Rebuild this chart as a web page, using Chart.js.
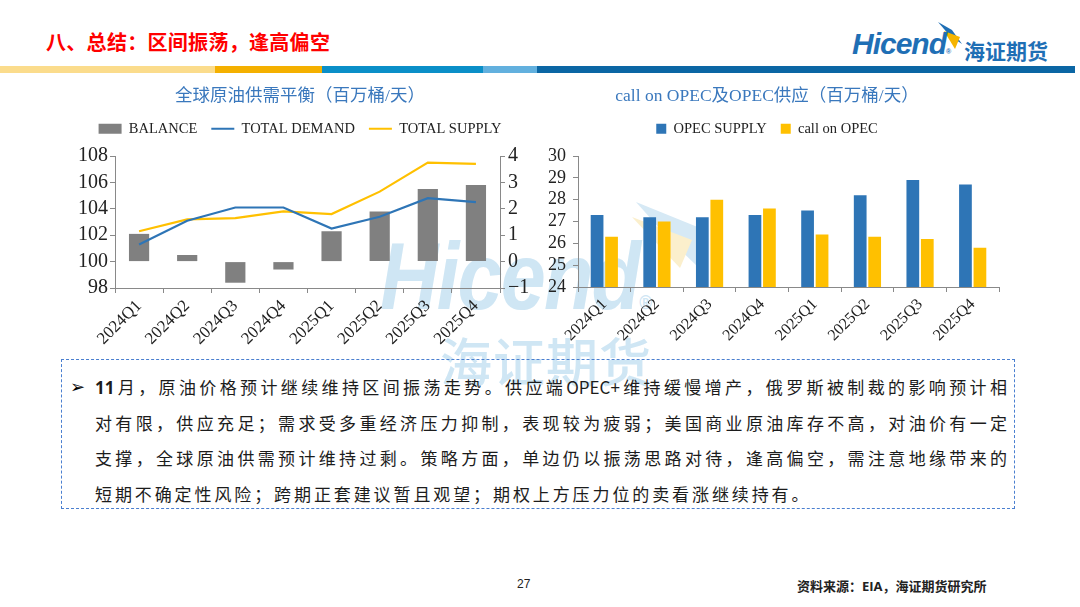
<!DOCTYPE html>
<html lang="zh-CN">
<head>
<meta charset="utf-8">
<title>八、总结：区间振荡，逢高偏空</title>
<script src="https://cdn.jsdelivr.net/npm/chart.js@4.4.1/dist/chart.umd.min.js"></script>
<style>
  html, body { margin: 0; padding: 0; background: #fff; }
  #page { position: relative; width: 1080px; height: 607px; overflow: hidden; font-family: "Noto Sans CJK SC", sans-serif; }
  .abs { position: absolute; }
  #titulo { left: 46px; top: 28px; font-size: 20px; font-weight: bold; color: #ff0000; line-height: 28px; letter-spacing: 0.3px; }
  #logoTxt { left: 852px; top: 27px; font-family: "Liberation Sans", sans-serif; font-style: italic; font-weight: bold; font-size: 30px; color: #1f6fb5; letter-spacing: -1px; }
  #logoCn { left: 964px; top: 38px; font-size: 21px; color: #1f6fb5; font-weight: bold; line-height: 24px; }
  #faixa { left: 0; top: 66px; width: 1075px; height: 7px; display: flex; }
  #faixa div { height: 100%; }
  .marca { color: #cfe6f4; }
  #marcaEn { left: 380px; top: 225px; font-family: "Liberation Sans", sans-serif; font-style: italic; font-weight: bold; font-size: 94px; letter-spacing: -2px; line-height: 104px; transform: scaleX(0.86); transform-origin: left top; }
  #marcaCn { left: 440px; top: 330px; font-size: 52px; line-height: 60px; font-weight: 500; letter-spacing: 1px; }
  .grafico { position: absolute; top: 80px; width: 480px; height: 275px; }
  #caixa { left: 61px; top: 359px; width: 954px; height: 150px; border: 1.5px dashed #4a7fd0; box-sizing: border-box; }
  #texto { left: 95px; top: 369px; width: 912px; font-size: 17px; color: #1c1c1c; }
  #texto div { height: 35.5px; line-height: 35.5px; white-space: nowrap; }
  #texto .just { text-align: justify; text-align-last: justify; }
  #texto .ult { letter-spacing: 2.9px; }
  #seta { left: 70px; top: 369px; font-size: 18px; line-height: 35.5px; color: #000; font-family: "DejaVu Sans", sans-serif; font-weight: bold; }
  #pagina { left: 517px; top: 577px; font-size: 12px; color: #222; font-family: "Liberation Sans", sans-serif; }
  #fonte { left: 797px; top: 576px; font-size: 13px; font-weight: bold; color: #222; }
</style>
</head>
<body>
<div id="page">
  <div class="abs" id="titulo">八、总结：区间振荡，逢高偏空</div>

  <svg class="abs" style="left:0;top:0" width="1080" height="80">
    <polygon points="938,22 952,30 962,44 950,36" fill="#1f6fb5"/>
    <polygon points="944,31 960,37 955,49" fill="#f5b400"/>
  </svg>
  <div class="abs" id="logoTxt">Hicend<span style="font-size:7px;font-style:normal;letter-spacing:0">®</span></div>
  <div class="abs" id="logoCn">海证期货</div>

  <div class="abs" id="faixa">
    <div style="width:215px;background:#fbdc8c"></div>
    <div style="width:107px;background:#f4b000"></div>
    <div style="width:161px;background:#0a8fc8"></div>
    <div style="width:54px;background:#62b0de"></div>
    <div style="width:538px;background:#0b66a4"></div>
  </div>

  <svg class="abs" style="left:0;top:0" width="1080" height="607">
    <polygon points="636,202 700,228 697,266 668,238" fill="#d6e9f5"/>
    <polygon points="632,217 692,240 680,268" fill="#fbefcc"/>
  </svg>
  <div class="abs marca" id="marcaEn">Hicend<span style="font-size:20px;font-style:normal;letter-spacing:0">®</span></div>
  <div class="abs marca" id="marcaCn">海证期货</div>

  <div class="grafico" style="left:60px"><canvas id="graficoBalanco"></canvas></div>
  <div class="grafico" style="left:535px"><canvas id="graficoOpec"></canvas></div>

  <div class="abs" id="caixa"></div>
  <div class="abs" id="seta">➢</div>
  <div class="abs" id="texto">
    <div class="just"><b style="font-family:'Open Sans',sans-serif">11</b>月，原油价格预计继续维持区间振荡走势。供应端OPEC+维持缓慢增产，俄罗斯被制裁的影响预计相</div>
    <div class="just">对有限，供应充足；需求受多重经济压力抑制，表现较为疲弱；美国商业原油库存不高，对油价有一定</div>
    <div class="just">支撑，全球原油供需预计维持过剩。策略方面，单边仍以振荡思路对待，逢高偏空，需注意地缘带来的</div>
    <div class="ult">短期不确定性风险；跨期正套建议暂且观望；期权上方压力位的卖看涨继续持有。</div>
  </div>

  <div class="abs" id="pagina">27</div>
  <div class="abs" id="fonte">资料来源：<span style="font-family:'Open Sans',sans-serif">EIA</span>，海证期货研究所</div>
</div>

<script>
// dados
var trimestres = ['2024Q1', '2024Q2', '2024Q3', '2024Q4', '2025Q1', '2025Q2', '2025Q3', '2025Q4'];
var balanco = [1.05, 0.25, -0.8, -0.3, 1.15, 1.9, 2.75, 2.9];
var demandaTotal = [101.3, 103.1, 104.1, 104.1, 102.5, 103.4, 104.8, 104.5];
var ofertaTotal = [102.3, 103.2, 103.3, 103.8, 103.6, 105.3, 107.5, 107.4];

var ofertaOpec = [27.3, 27.2, 27.2, 27.3, 27.5, 28.2, 28.9, 28.7];
var callOnOpec = [26.3, 27.0, 28.0, 27.6, 26.4, 26.3, 26.2, 25.8];

var corEixo = '#898989';
var corTexto = '#222222';
var azul = '#2e75b6';
var amarelo = '#ffc000';
var serifa = "'Liberation Serif', 'Noto Sans CJK SC'";

function menos(v) {
  return String(v).replace('-', '\u2212');
}

// titulo + espaco abaixo da legenda, mesma altura nos dois graficos
function topo(texto) {
  return {
    title: {
      display: true,
      text: texto,
      color: '#3a78bd',
      font: { family: serifa, size: 17.5, weight: 'normal', lineHeight: 1 },
      padding: { top: 8, bottom: 2 }
    },
    subtitle: {
      display: true,
      text: '',
      weight: 500,
      font: { size: 1, lineHeight: 1 },
      padding: { top: 0, bottom: 9 }
    }
  };
}

var topoEsq = topo('全球原油供需平衡（百万桶/天）');

const graficoBalanco = new Chart(document.getElementById('graficoBalanco'), {
  data: {
    labels: trimestres,
    datasets: [
      {
        type: 'bar',
        label: 'BALANCE',
        data: balanco,
        yAxisID: 'y1',
        backgroundColor: '#808080',
        borderWidth: 0,
        barPercentage: 0.42,
        categoryPercentage: 1,
        order: 1
      },
      {
        type: 'line',
        label: 'TOTAL DEMAND',
        data: demandaTotal,
        yAxisID: 'y',
        borderColor: azul,
        backgroundColor: azul,
        borderWidth: 2.2,
        pointRadius: 0,
        tension: 0,
        order: 0
      },
      {
        type: 'line',
        label: 'TOTAL SUPPLY',
        data: ofertaTotal,
        yAxisID: 'y',
        borderColor: amarelo,
        backgroundColor: amarelo,
        borderWidth: 2.2,
        pointRadius: 0,
        tension: 0,
        order: 0
      }
    ]
  },
  options: {
    responsive: true,
    maintainAspectRatio: false,
    animation: false,
    layout: { padding: 0 },
    plugins: {
      title: topoEsq.title,
      subtitle: topoEsq.subtitle,
      tooltip: { enabled: false },
      legend: {
        position: 'top',
        labels: {
          usePointStyle: true,
          pointStyleWidth: 23,
          boxHeight: 10,
          padding: 14,
          color: '#222',
          font: { family: serifa, size: 14.5 },
          sort: (a, b) => a.datasetIndex - b.datasetIndex,
          generateLabels: function (chart) {
            const itens = Chart.defaults.plugins.legend.labels.generateLabels(chart);
            itens.forEach(function (it) {
              const ds = chart.data.datasets[it.datasetIndex];
              it.pointStyle = ds.type === 'line' ? 'line' : 'rect';
              if (ds.type === 'line') {
                it.strokeStyle = ds.borderColor;
                it.lineWidth = 2.2;
              }
            });
            return itens;
          }
        }
      }
    },
    scales: {
      x: {
        offset: true,
        grid: { display: true, drawOnChartArea: false, drawTicks: true, tickLength: 5, color: corEixo, offset: true },
        border: { display: true, color: corEixo },
        ticks: { minRotation: 45, maxRotation: 45, padding: 3, color: corTexto, font: { family: serifa, size: 17 } },
        afterFit: function (s) { s.height = 67; }
      },
      y: {
        position: 'left',
        min: 98,
        max: 108,
        ticks: { stepSize: 2, autoSkip: false, padding: 2, color: corTexto, font: { family: serifa, size: 20 } },
        grid: { drawOnChartArea: false, tickLength: 5, color: corEixo },
        border: { display: true, color: corEixo },
        afterFit: function (s) { s.width = 55; }
      },
      y1: {
        position: 'right',
        min: -1,
        max: 4,
        ticks: { stepSize: 1, autoSkip: false, padding: 3, color: corTexto, font: { family: serifa, size: 20 }, callback: (v) => menos(v) },
        grid: { drawOnChartArea: false, tickLength: 5, color: corEixo },
        border: { display: true, color: corEixo },
        afterFit: function (s) { s.width = 40; }
      }
    }
  }
});

var topoDir = topo('call on OPEC及OPEC供应（百万桶/天）');

const graficoOpec = new Chart(document.getElementById('graficoOpec'), {
  type: 'bar',
  data: {
    labels: trimestres,
    datasets: [
      {
        label: 'OPEC SUPPLY',
        data: ofertaOpec,
        backgroundColor: azul,
        borderWidth: 0,
        barPercentage: 0.88,
        categoryPercentage: 0.55
      },
      {
        label: 'call on OPEC',
        data: callOnOpec,
        backgroundColor: amarelo,
        borderWidth: 0,
        barPercentage: 0.88,
        categoryPercentage: 0.55
      }
    ]
  },
  options: {
    responsive: true,
    maintainAspectRatio: false,
    animation: false,
    layout: { padding: { right: 16 } },
    plugins: {
      title: topoDir.title,
      subtitle: topoDir.subtitle,
      tooltip: { enabled: false },
      legend: {
        position: 'top',
        labels: {
          boxWidth: 10,
          boxHeight: 10,
          padding: 14,
          color: '#222',
          font: { family: serifa, size: 14.5 }
        }
      }
    },
    scales: {
      x: {
        grid: { display: true, drawOnChartArea: false, drawTicks: true, tickLength: 5, color: corEixo, offset: true },
        border: { display: true, color: corEixo },
        ticks: { minRotation: 45, maxRotation: 45, padding: 3, color: corTexto, font: { family: serifa, size: 16 } },
        afterFit: function (s) { s.height = 68; }
      },
      y: {
        min: 24,
        max: 30,
        ticks: { stepSize: 1, autoSkip: false, padding: 7, color: corTexto, font: { family: serifa, size: 18 } },
        grid: { drawOnChartArea: false, tickLength: 5, color: corEixo },
        border: { display: true, color: corEixo },
        afterFit: function (s) { s.width = 43; }
      }
    }
  }
});
</script>
</body>
</html>
